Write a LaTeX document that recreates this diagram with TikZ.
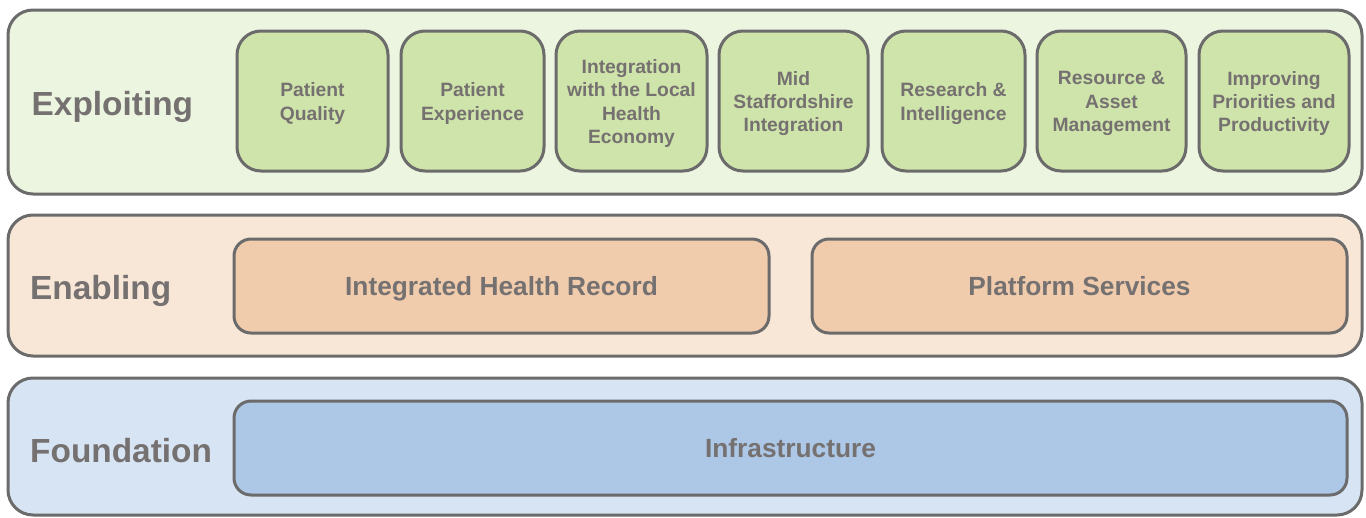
\documentclass[tikz,border=0pt]{standalone}
\usepackage{fontspec}
\setmainfont{Liberation Sans}
\definecolor{edge}{HTML}{6B6B6B}
\definecolor{txt}{HTML}{767171}
\definecolor{gOut}{HTML}{EBF5DF}
\definecolor{gIn}{HTML}{CFE4AA}
\definecolor{oOut}{HTML}{F8E7D7}
\definecolor{oIn}{HTML}{F0CCAD}
\definecolor{bOut}{HTML}{D7E4F3}
\definecolor{bIn}{HTML}{ADC7E6}
\tikzset{
  layerbox/.style={draw=edge, line width=3pt, rounded corners=25pt, inner sep=0pt},
  smallbox/.style={draw=edge, line width=3pt, rounded corners=24pt, fill=gIn, inner sep=0pt,
    minimum height=140pt},
  smalltext/.style={inner sep=0pt, align=center, text=txt, font=\bfseries\fontsize{19.3}{23.2}\selectfont},
  widebox/.style={draw=edge, line width=3pt, rounded corners=17pt, inner sep=0pt,
    minimum height=94pt, text height=18.8pt, text depth=0pt, text=txt, font=\bfseries\fontsize{26.3}{30}\selectfont},
  layerlabel/.style={anchor=base west, inner sep=0pt, text=txt, font=\bfseries\fontsize{33.4}{38}\selectfont}
}
\newcommand{\expbox}[4]{%
  \node[smallbox, minimum width=#3pt] (#1) at (#2,101) {};
  \node[smalltext] (#1t) at ([yshift=-2.5pt]#1.center) {#4};
}
\begin{document}
\begin{tikzpicture}[x=1pt,y=-1pt]
\useasboundingbox (0,0) rectangle (1366,517);
% layers
\node[layerbox, fill=gOut, minimum width=1354pt, minimum height=184pt] (L1) at (685,102) {};
\node[layerbox, fill=oOut, minimum width=1354pt, minimum height=141pt] (L2) at (685,285.5) {};
\node[layerbox, fill=bOut, minimum width=1354pt, minimum height=137pt] (L3) at (685,446.5) {};
% labels
\node[layerlabel] (t1) at (31.5,115) {Exploiting};
\node[layerlabel] (t2) at (30,299) {Enabling};
\node[layerlabel] (t3) at (30,462) {Foundation};
% exploiting boxes
\expbox{e1}{312.5}{151}{Patient\\Quality}
\expbox{e2}{472.5}{143}{Patient\\Experience}
\expbox{e3}{631.5}{151}{Integration\\with the Local\\Health\\Economy}
\expbox{e4}{793.5}{149}{Mid\\Staffordshire\\Integration}
\expbox{e5}{953.5}{143}{Research \&\\Intelligence}
\expbox{e6}{1111.5}{149}{Resource \&\\Asset\\Management}
\expbox{e7}{1274}{150}{Improving\\Priorities and\\Productivity}
% enabling
\node[widebox, fill=oIn, minimum width=535pt] (n1) at (501.5,286) {Integrated Health Record};
\node[widebox, fill=oIn, minimum width=535pt] (n2) at (1079.5,286) {Platform Services};
% foundation
\node[widebox, fill=bIn, minimum width=1113pt] (f1) at (790.5,448) {Infrastructure};
\end{tikzpicture}
\end{document}
